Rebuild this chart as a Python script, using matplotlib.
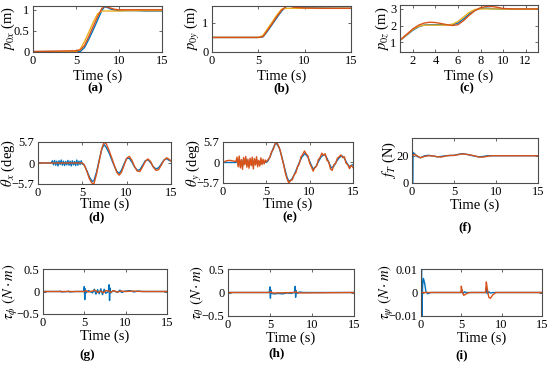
import numpy as np
import matplotlib
matplotlib.use('Agg')
import matplotlib.pyplot as plt

plt.rcParams['font.family'] = ['Liberation Serif', 'DejaVu Serif']
plt.rcParams['mathtext.fontset'] = 'stix'

BLUE = '#0072BD'
ORANGE = '#D95319'
YELLOW = '#EDB120'

# ---- (a) p0x ----
px_t = [0, 5.0, 5.5, 6.0, 6.5, 7.0, 7.5, 8.0, 8.3, 8.6, 9.0, 9.5, 10, 11, 12, 13, 15]
px_blue = [0, 0, 0.0, 0.1, 0.3, 0.52, 0.75, 0.98, 1.07, 1.06, 1.02, 0.99, 0.98, 0.98, 0.98, 0.97, 0.97]
px_orange = [0.0, 0.02, 0.04, 0.15, 0.37, 0.6, 0.83, 1.03, 1.08, 1.07, 1.04, 1.01, 1.0, 1.0, 1.0, 1.0, 1.0]
px_yellow = [0, 0, 0.06, 0.25, 0.47, 0.7, 0.9, 0.97, 0.97, 0.97, 0.97, 0.97, 0.97, 0.98, 0.98, 0.98, 0.98]

# ---- (b) p0y ----
py_t = [0, 0.02, 5.0, 5.5, 6.0, 6.5, 7.0, 7.5, 8.0, 8.3, 8.7, 9.0, 10, 12, 15]
py_blue = [0.5, 0.5, 0.5, 0.52, 0.72, 0.95, 1.18, 1.4, 1.56, 1.58, 1.56, 1.54, 1.52, 1.51, 1.5]
py_orange = [0, 0.5, 0.5, 0.53, 0.75, 0.98, 1.22, 1.43, 1.57, 1.58, 1.55, 1.53, 1.51, 1.5, 1.5]
py_yellow = [0.5, 0.5, 0.5, 0.57, 0.8, 1.03, 1.27, 1.47, 1.5, 1.5, 1.5, 1.5, 1.5, 1.5, 1.5]

# ---- (c) p0z ----
pz_t = [0.85, 1.5, 2.0, 2.5, 3.0, 3.5, 4.0, 4.5, 5.0, 5.5, 6.0, 6.5, 7.0, 7.5, 8.0, 8.5,
        9.0, 9.5, 10, 11, 12, 13.1]
pz_blue = [1.1, 1.45, 1.72, 1.92, 2.03, 2.05, 2.05, 2.05, 2.05, 2.05, 2.15, 2.4, 2.7, 2.92,
           3.03, 3.05, 3.02, 3.0, 3.0, 3.0, 3.0, 3.0]
pz_orange = [1.12, 1.5, 1.8, 2.02, 2.15, 2.2, 2.18, 2.12, 2.05, 2.0, 2.05, 2.3, 2.62, 2.9,
             3.08, 3.15, 3.15, 3.1, 3.03, 3.0, 3.0, 3.0]
pz_yellow = [1.1, 1.48, 1.76, 1.95, 2.02, 2.02, 2.02, 2.02, 2.03, 2.08, 2.25, 2.52, 2.8, 2.97,
             3.0, 3.0, 3.0, 3.0, 3.0, 3.0, 3.0, 3.0]

# ---- (d) theta_x ----
thx_blue_t = [0, 1.5, 1.62, 1.75, 1.87, 2.0, 2.12, 2.25, 2.37, 2.5, 2.62, 2.75, 2.87, 3.0, 3.12,
              3.25, 3.37, 3.5, 3.62, 3.75, 3.87, 4.0, 4.12, 4.25, 4.37, 4.5, 4.62, 4.75, 4.87, 5.0,
              5.2, 5.5, 5.8, 6.1, 6.3, 6.6, 6.9, 7.2, 7.45, 7.7, 8.0, 8.3, 8.6, 8.9, 9.15, 9.4,
              9.7, 10.0, 10.3, 10.6, 10.9, 11.2, 11.5, 11.8, 12.1, 12.4, 12.7, 13.0, 13.3, 13.6,
              13.9, 14.2, 14.5, 14.8, 15]
thx_blue = [0, 0, 0.6, -0.5, 0.7, -0.6, 0.5, -0.8, 0.6, -0.4, 0.8, -0.6, 0.5, -0.7, 0.4, -0.5,
            0.7, -0.6, 0.5, -0.8, 0.6, -0.5, 0.4, -0.7, 0.8, -0.6, 0.5, -0.4, 0.6, -0.3,
            -0.5, -2.0, -3.8, -5.0, -4.8, -2.5, 0.8, 3.8, 5.0, 4.2, 2.8, 1.0, -0.8, -2.3, -2.8,
            -2.0, -0.3, 1.2, 1.3, 0.2, -1.1, -2.0, -1.8, -0.6, 0.6, 0.9, 0.1, -1.0, -1.6, -1.3,
            -0.3, 0.8, 1.2, 0.7, 0.6]
thx_orange_t = [0, 5.0, 5.2, 5.5, 5.8, 6.1, 6.3, 6.6, 6.9, 7.2, 7.45, 7.7, 8.0, 8.3, 8.6, 8.9,
                9.15, 9.4, 9.7, 10.0, 10.3, 10.6, 10.9, 11.2, 11.5, 11.8, 12.1, 12.4, 12.7,
                13.0, 13.3, 13.6, 13.9, 14.2, 14.5, 14.8, 15]
thx_orange = [0, 0, -0.4, -2.2, -4.3, -5.5, -5.7, -3.0, 0.5, 4.0, 5.6, 5.2, 3.5, 1.5, -0.6,
              -2.6, -3.3, -2.6, -0.7, 1.3, 1.8, 0.7, -1.0, -2.2, -2.3, -1.0, 0.4, 1.1, 0.4,
              -1.1, -2.0, -1.8, -0.6, 0.7, 1.4, 1.0, 0.5]

# ---- (e) theta_y ----
thy_blue_t = [0, 1.5, 1.62, 1.75, 1.87, 2.0, 2.12, 2.25, 2.37, 2.5, 2.62, 2.75, 2.87, 3.0, 3.12,
              3.25, 3.37, 3.5, 3.62, 3.75, 3.87, 4.0, 4.12, 4.25, 4.37, 4.5, 4.62, 4.75, 4.87, 5.0,
              5.2, 5.5, 5.8, 6.0, 6.2, 6.5, 6.8, 7.1, 7.4, 7.6, 7.9, 8.2, 8.5, 8.8, 9.1, 9.45,
              9.8, 10.1, 10.4, 10.7, 11.0, 11.3, 11.7, 12.0, 12.2, 12.5, 12.8, 13.1, 13.4, 13.7,
              14.0, 14.3, 14.6, 14.8, 15]
thy_blue = [0, 0, 0.8, -0.6, 1.0, -0.9, 0.5, -1.2, 0.9, -0.3, 1.1, -0.8, 0.4, -0.9, 0.6, -0.5,
            0.8, -1.0, 0.7, -0.4, 0.9, -0.6, 0.3, -0.5, 0.6, -0.3, 0.4, -0.2, 0.3, 0.0,
            0.5, 2.0, 4.0, 5.0, 5.3, 4.0, 1.5, -1.5, -4.2, -5.2, -4.8, -3.5, -1.8, 0.0, 1.5,
            2.5, 1.5, -0.3, -1.8, -1.2, 0.2, 1.5, 2.3, 1.2, 0.0, -1.5, -1.0, 0.3, 1.3, 1.9,
            1.2, -0.2, -1.2, -0.8, -0.6]
thy_orange_t = [0, 0.4, 0.8, 1.2,
                1.5, 1.62, 1.75, 1.87, 2.0, 2.12, 2.25, 2.37, 2.5, 2.62, 2.75, 2.87, 3.0, 3.12,
                3.25, 3.37, 3.5, 3.62, 3.75, 3.87, 4.0, 4.12, 4.25, 4.37, 4.5, 4.62, 4.75, 4.87,
                5.0,
                5.2, 5.4, 5.6, 5.8, 6.0, 6.2, 6.4, 6.6, 6.8, 7.0, 7.2, 7.4, 7.6, 7.8, 8.0, 8.2,
                8.4, 8.6, 8.8, 9.0, 9.2, 9.4, 9.6, 9.8, 10.0, 10.2, 10.4, 10.6, 10.8, 11.0, 11.2,
                11.4, 11.6, 11.8, 12.0, 12.2, 12.4, 12.6, 12.8, 13.0, 13.2, 13.4, 13.6, 13.8,
                14.0, 14.2, 14.4, 14.6, 14.8, 15.0]
thy_orange = [0, 0.5, 0.6, 0.4,
              0.3, 1.5, -1.2, 1.8, -1.5, 0.8, -1.9, 1.4, -0.6, 1.7, -1.3, 0.9, -1.6, 1.2, -0.9,
              1.5, -1.8, 1.1, -0.7, 1.6, -1.2, 0.6, -1.0, 1.3, -0.6, 0.9, -0.4, 0.7, 0.2,
              0.8, 1.4, 3.0, 3.6, 5.2, 5.7, 4.6, 3.4, 1.2, -0.6, -3.0, -4.6, -5.7, -5.0, -4.8,
              -3.4, -2.9, -1.2, -0.4, 1.6, 2.2, 3.2, 2.4, 1.8, -0.2, -1.2, -2.4, -1.4, -1.0,
              0.8, 1.4, 2.6, 2.0, 2.4, 0.6, 0.2, -1.8, -2.2, -0.6, -0.2, 1.2, 1.6, 2.1, 1.4,
              1.6, -0.2, -0.6, -1.7, -0.8, -1.4]

# ---- (f) thrust ----
ft_t = [0, 0.1, 0.12, 0.3, 0.6, 1.0, 1.5, 2.0, 2.5, 3.0, 3.5, 4.0, 4.5, 5.0, 5.5, 6.0, 6.5,
        7.0, 7.5, 8.0, 8.5, 9.0, 9.5, 10, 12, 15]
ft_blue = [0, 0, 22.5, 21.5, 19.5, 18.5, 20.0, 20.3, 19.8, 19.2, 19.5, 20.0, 20.2, 20.3, 21.0,
           21.5, 21.0, 20.3, 19.6, 19.2, 19.5, 20.0, 20.0, 20.0, 20.0, 20.0]
ft_orange = [20, 20, 20.5, 21, 20, 18.5, 19.5, 20, 19.8, 19.3, 19.0, 19.8, 20.2, 20.2, 20.8,
             21.3, 21.0, 20.5, 19.8, 19.0, 19.0, 19.6, 20.0, 20.0, 20.0, 20.0]

# ---- (g) tau_phi ----
tphi_blue_t = [0, 0.01, 0.03, 1.0, 2.0, 2.1, 2.2, 3.0, 3.1, 3.2, 4.0, 4.9, 5.0, 5.05, 5.1, 5.2,
               5.5, 6.0, 6.2, 6.4, 6.6, 6.8, 7.0, 7.2, 7.4, 7.6, 7.9, 8.0, 8.05, 8.1, 8.2, 8.5,
               9.0, 9.3, 9.5, 10.0, 10.5, 11.0, 11.5, 12.0, 13.0, 15.0]
tphi_blue = [0.5, 0, 0, 0, 0, 0.01, -0.01, 0, 0.01, -0.01, 0, 0, 0.11, -0.18, 0.06, -0.03,
             0.02, -0.03, 0.05, -0.06, 0.04, -0.05, 0.06, -0.07, 0.05, -0.04, 0.0, 0.15, -0.2,
             0.08, -0.03, 0.02, -0.02, 0.03, -0.02, 0.01, 0.02, -0.01, 0.01, 0, 0, 0]
tphi_orange_t = [0, 5.0, 5.2, 5.5, 6.0, 6.3, 6.6, 7.0, 7.3, 7.6, 8.0, 8.2, 8.5, 9.0, 9.5, 10,
                 11, 12, 15]
tphi_orange = [0, 0, 0.02, -0.01, 0.01, 0.03, -0.02, 0.01, -0.03, 0.02, 0.01, -0.02, 0.02,
               -0.01, 0.01, 0, 0.01, 0, 0]

# ---- (h) tau_theta ----
tth_blue_t = [0, 0.02, 4.9, 5.0, 5.05, 5.1, 5.2, 5.5, 6.0, 6.5, 7.0, 7.5, 7.9, 8.0, 8.05, 8.1,
              8.2, 8.5, 9.0, 10.0, 15.0]
tth_blue = [0.5, 0, 0, 0.12, -0.12, 0.05, -0.02, -0.03, -0.02, -0.03, -0.01, -0.02, 0, 0.13,
            -0.1, 0.04, -0.02, 0.01, 0, 0, 0]
tth_orange_t = [0, 5, 5.1, 5.3, 7.9, 8.1, 8.3, 15]
tth_orange = [0, 0, 0.02, -0.01, 0, 0.02, -0.01, 0]

# ---- (i) tau_psi ----
tpsi_blue_t = [0, 0.08, 0.1, 0.2, 0.3, 0.45, 0.6, 0.8, 1.0, 1.2, 5.0, 5.1, 5.2, 5.4, 5.6, 6.0,
               8.0, 8.1, 8.2, 8.4, 8.6, 9.0, 15]
tpsi_blue = [0.01, 0.01, -0.01, 0.003, 0.006, 0.004, 0.0005, -0.0005, -0.0003, 0, 0, 0.001,
             -0.0005, 0.0003, 0, 0, 0, 0.002, -0.0005, 0.0003, -0.0002, 0, 0]
tpsi_orange_t = [0, 4.95, 5.0, 5.1, 5.3, 5.5, 5.8, 6.2, 8.0, 8.1, 8.2, 8.4, 8.6, 8.9, 9.3, 15]
tpsi_orange = [0, 0, 0.0027, 0.0005, -0.0012, -0.0008, -0.0002, 0, 0, 0.0045, 0.002, -0.002,
               -0.0025, -0.001, 0, 0]

W, H = 550, 368
fig = plt.figure(figsize=(W / 100, H / 100), dpi=100)


def make_axes(x0, y0, x1, y1):
    # pixel box (left, top, right, bottom) -> figure axes
    ax = fig.add_axes([x0 / W, 1 - y1 / H, (x1 - x0) / W, (y1 - y0) / H])
    for s in ax.spines.values():
        s.set_color('0.3')
        s.set_linewidth(0.8)
    ax.tick_params(direction='in', top=True, right=True, labelsize=9,
                   length=2.5, width=0.6, color='0.3', pad=2.5)
    return ax


def finish(ax, ylabel, xl_px, yl_px, lab_px, letter, box):
    x0, y0, x1, y1 = box
    ax.set_xlabel('Time (s)', fontsize=10.5)
    ax.xaxis.set_label_coords(0.5, (y1 - xl_px) / (y1 - y0))
    ax.xaxis.label.set_va('center')
    ax.set_ylabel(ylabel, fontsize=10.5)
    ax.yaxis.set_label_coords((yl_px - x0) / (x1 - x0), 0.5)
    ax.yaxis.label.set_va('center')
    fig.text(lab_px[0] / W, 1 - lab_px[1] / H, '(' + letter + ')', ha='center', va='center',
             fontsize=9.5, fontweight='bold')


lw = 1.0

# (a)
box = (33, 6, 162, 52)
ax = make_axes(*box)
ax.plot(px_t, px_blue, color=BLUE, lw=lw)
ax.plot(px_t, px_yellow, color=YELLOW, lw=lw)
ax.plot(px_t, px_orange, color=ORANGE, lw=lw)
ax.set_xlim(0, 15)
ax.set_ylim(-0.01, 1.09)
ax.set_xticks([0, 5, 10, 15])
ax.set_yticks([0, 0.5, 1])
ax.set_yticklabels(['0', '0.5', '1'])
finish(ax, r'$p_{0x}$ (m)', 76, 8, (95, 88), 'a', box)

# (b)
box = (212, 6, 351, 52)
ax = make_axes(*box)
ax.plot(py_t, py_blue, color=BLUE, lw=lw)
ax.plot(py_t, py_yellow, color=YELLOW, lw=lw)
ax.plot(py_t, py_orange, color=ORANGE, lw=lw)
ax.set_xlim(0, 15)
ax.set_ylim(0, 1.58)
ax.set_xticks([0, 5, 10, 15])
ax.set_yticks([0, 1])
finish(ax, r'$p_{0y}$ (m)', 76, 193, (282, 88), 'b', box)

# (c)
box = (400, 5, 538, 52)
ax = make_axes(*box)
ax.plot(pz_t, pz_blue, color=BLUE, lw=lw)
ax.plot(pz_t, pz_yellow, color=YELLOW, lw=lw)
ax.plot(pz_t, pz_orange, color=ORANGE, lw=lw)
ax.set_xlim(0.85, 13.1)
ax.set_ylim(0.4, 3.24)
ax.set_xticks([2, 4, 6, 8, 10, 12])
ax.set_yticks([1, 2, 3])
finish(ax, r'$p_{0z}$ (m)', 76, 382, (467, 88), 'c', box)

# (d)
box = (38, 142, 171, 184)
ax = make_axes(*box)
ax.plot(thx_blue_t, thx_blue, color=BLUE, lw=lw)
ax.plot(thx_orange_t, thx_orange, color=ORANGE, lw=lw)
ax.set_xlim(0, 15)
ax.set_ylim(-5.7, 5.7)
ax.set_xticks([0, 5, 10, 15])
ax.set_yticks([-5.7, 0, 5.7])
ax.set_yticklabels(['\u22125.7', '0', '5.7'])
finish(ax, r'$\theta_x$ (deg)', 204, 8, (97, 217), 'd', box)

# (e)
box = (223, 142, 353, 183)
ax = make_axes(*box)
ax.plot(thy_blue_t, thy_blue, color=BLUE, lw=lw)
ax.plot(thy_orange_t, thy_orange, color=ORANGE, lw=lw)
ax.set_xlim(0, 15)
ax.set_ylim(-5.7, 5.7)
ax.set_xticks([0, 5, 10, 15])
ax.set_yticks([-5.7, 0, 5.7])
ax.set_yticklabels(['\u22125.7', '0', '5.7'])
finish(ax, r'$\theta_y$ (deg)', 204, 194, (290, 217), 'e', box)

# (f)
box = (412, 138, 538, 183)
ax = make_axes(*box)
ax.plot(ft_t, ft_blue, color=BLUE, lw=lw)
ax.plot(ft_t, ft_orange, color=ORANGE, lw=lw)
ax.set_xlim(0, 15)
ax.set_ylim(0, 33)
ax.set_xticks([0, 5, 10, 15])
ax.set_yticks([0, 20])
finish(ax, r'$f_T$ (N)', 205, 389, (465, 227), 'f', box)

# (g)
box = (43, 269, 167, 314)
ax = make_axes(*box)
ax.plot(tphi_blue_t, tphi_blue, color=BLUE, lw=lw)
ax.plot(tphi_orange_t, tphi_orange, color=ORANGE, lw=lw)
ax.set_xlim(0, 15)
ax.set_ylim(-0.5, 0.5)
ax.set_xticks([0, 5, 10, 15])
ax.set_yticks([-0.5, 0, 0.5])
ax.set_yticklabels(['\u22120.5', '0', '0.5'])
finish(ax, r'$\tau_\phi\ (N\cdot m)$', 336, 11, (87, 355), 'g', box)

# (h)
box = (228, 269, 354, 316)
ax = make_axes(*box)
ax.plot(tth_blue_t, tth_blue, color=BLUE, lw=lw)
ax.plot(tth_orange_t, tth_orange, color=ORANGE, lw=lw)
ax.set_xlim(0, 15)
ax.set_ylim(-0.5, 0.5)
ax.set_xticks([0, 5, 10, 15])
ax.set_yticks([-0.5, 0, 0.5])
ax.set_yticklabels(['\u22120.5', '0', '0.5'])
finish(ax, r'$\tau_\theta\ (N\cdot m)$', 338, 197, (277, 353), 'h', box)

# (i)
box = (421, 269, 542, 316)
ax = make_axes(*box)
ax.plot(tpsi_blue_t, tpsi_blue, color=BLUE, lw=lw)
ax.plot(tpsi_orange_t, tpsi_orange, color=ORANGE, lw=lw)
ax.set_xlim(0, 15)
ax.set_ylim(-0.01, 0.01)
ax.set_xticks([0, 5, 10, 15])
ax.set_yticks([-0.01, 0, 0.01])
ax.set_yticklabels(['\u22120.01', '0', '0.01'])
finish(ax, r'$\tau_\psi\ (N\cdot m)$', 338, 386, (462, 355), 'i', box)

fig.savefig('out.png', dpi=100)
